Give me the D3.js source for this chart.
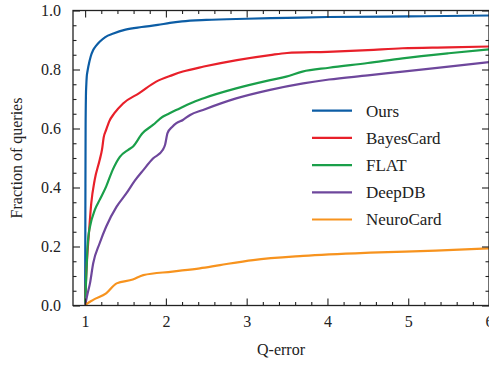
<!DOCTYPE html>
<html>
<head>
<meta charset="utf-8">
<title></title>
<script src="https://cdn.jsdelivr.net/npm/d3@7/dist/d3.min.js"></script>
<style>
  body { margin: 0; background: #fff; }
  text { font-family: "Liberation Serif", serif; fill: #222; }
</style>
</head>
<body>
<script>
const width = 489
const height = 365
const margin = { top: 10.5, bottom: 59.5, left: 73, right: 0 }

// data: Q-error (x) vs fraction of queries (y)
const seriesNames = ["Ours", "BayesCard", "FLAT", "DeepDB", "NeuroCard"]
const seriesColors = ["#0c5da5", "#e8202a", "#1a9f4a", "#6e479c", "#f7931e"]

const oursX = [1.0, 1.003, 1.006, 1.01, 1.015, 1.02, 1.03, 1.04, 1.07, 1.1, 1.14, 1.18, 1.25, 1.35, 1.5, 1.7, 1.9, 2.05, 2.2, 2.5, 3.0, 3.5, 4.0, 5.0, 6.0]
const oursY = [0.0, 0.3, 0.6, 0.71, 0.75, 0.775, 0.795, 0.81, 0.845, 0.866, 0.882, 0.894, 0.91, 0.922, 0.935, 0.944, 0.951, 0.958, 0.963, 0.968, 0.972, 0.975, 0.978, 0.98, 0.983]

const bayesX = [1.0, 1.01, 1.025, 1.04, 1.05, 1.076, 1.118, 1.18, 1.21, 1.23, 1.26, 1.3, 1.36, 1.47, 1.67, 1.88, 2.08, 2.21, 2.47, 2.88, 3.29, 3.5, 4.0, 4.5, 4.93, 5.5, 6.0]
const bayesY = [0.0, 0.08, 0.16, 0.22, 0.256, 0.346, 0.425, 0.493, 0.53, 0.57, 0.595, 0.625, 0.651, 0.685, 0.72, 0.759, 0.781, 0.793, 0.81, 0.832, 0.849, 0.856, 0.86, 0.866, 0.872, 0.875, 0.878]

const flatX = [1.0, 1.01, 1.02, 1.03, 1.04, 1.06, 1.12, 1.18, 1.26, 1.34, 1.43, 1.53, 1.59, 1.71, 1.84, 1.96, 2.04, 2.17, 2.3, 2.46, 2.87, 3.29, 3.49, 3.69, 4.02, 4.5, 4.93, 5.5, 6.0]
const flatY = [0.0, 0.07, 0.14, 0.2, 0.233, 0.267, 0.324, 0.358, 0.403, 0.459, 0.504, 0.527, 0.538, 0.584, 0.612, 0.64, 0.651, 0.668, 0.685, 0.702, 0.736, 0.764, 0.776, 0.793, 0.806, 0.822, 0.838, 0.855, 0.868]

const deepX = [1.0, 1.03, 1.06, 1.1, 1.18, 1.26, 1.39, 1.51, 1.62, 1.72, 1.84, 1.96, 1.99, 2.02, 2.08, 2.13, 2.21, 2.3, 2.46, 2.87, 3.29, 3.7, 4.02, 4.5, 4.93, 5.5, 6.0]
const deepY = [0.0, 0.04, 0.075, 0.143, 0.211, 0.267, 0.335, 0.38, 0.425, 0.459, 0.498, 0.527, 0.545, 0.584, 0.606, 0.618, 0.629, 0.646, 0.663, 0.702, 0.731, 0.753, 0.766, 0.78, 0.793, 0.81, 0.825]

const neuroX = [1.0, 1.02, 1.1, 1.26, 1.39, 1.59, 1.72, 2.08, 2.42, 2.67, 3.08, 3.7, 4.53, 5.34, 6.0]
const neuroY = [0.0, 0.005, 0.019, 0.041, 0.075, 0.088, 0.103, 0.115, 0.126, 0.137, 0.154, 0.168, 0.179, 0.186, 0.194]

const xTicks = [1, 2, 3, 4, 5, 6]
const yTicks = [0, 0.2, 0.4, 0.6, 0.8, 1.0]

const seriesData = [
  [oursX, oursY], [bayesX, bayesY], [flatX, flatY], [deepX, deepY], [neuroX, neuroY]
]

const svg = d3.select('body').append('svg')
  .attr('width', width)
  .attr('height', height)

const x = d3.scaleLinear().domain([0.85, 6]).range([margin.left, width - margin.right])
const y = d3.scaleLinear().domain([0, 1]).range([height - margin.bottom, margin.top])

const xMinor = d3.range(1, 6.01, 0.2).filter(v => xTicks.every(t => Math.abs(t - v) > 1e-6))
const yMinor = d3.range(0, 1.001, 0.05).filter(v => yTicks.every(t => Math.abs(t - v) > 1e-6))

svg.append('clipPath').attr('id', 'plot')
  .append('rect')
  .attr('x', margin.left).attr('y', margin.top)
  .attr('width', width - margin.right - margin.left)
  .attr('height', height - margin.bottom - margin.top)

// lines
const line = d3.line().x(d => x(d[0])).y(d => y(d[1])).curve(d3.curveMonotoneX)
const plot = svg.append('g').attr('clip-path', 'url(#plot)')
seriesData.forEach((s, i) => {
  const pts = s[0].map((v, j) => [v, s[1][j]])
  plot.append('path')
    .datum(pts)
    .attr('fill', 'none')
    .attr('stroke', seriesColors[i])
    .attr('stroke-width', 2.2)
    .attr('stroke-linejoin', 'round')
    .attr('d', line)
})

// axes, ticks pointing inward
function styleAxis(g) {
  g.selectAll('.tick line').attr('stroke', '#222').attr('stroke-width', 1.1)
  g.selectAll('.domain').remove()
  g.selectAll('text').style('font-size', '16px').attr('fill', '#222')
}

const bottomY = height - margin.bottom
const rightX = width - margin.right

svg.append('g').attr('transform', `translate(0,${bottomY})`)
  .call(d3.axisBottom(x).tickValues(xTicks).tickFormat(d3.format('d')).tickSize(-7).tickPadding(10))
  .call(styleAxis)
svg.append('g').attr('transform', `translate(0,${bottomY})`)
  .call(d3.axisBottom(x).tickValues(xMinor).tickFormat('').tickSize(-3.5))
  .call(styleAxis)
svg.append('g').attr('transform', `translate(0,${margin.top})`)
  .call(d3.axisTop(x).tickValues(xTicks).tickFormat('').tickSize(-7))
  .call(styleAxis)
svg.append('g').attr('transform', `translate(0,${margin.top})`)
  .call(d3.axisTop(x).tickValues(xMinor).tickFormat('').tickSize(-3.5))
  .call(styleAxis)

svg.append('g').attr('transform', `translate(${margin.left},0)`)
  .call(d3.axisLeft(y).tickValues(yTicks).tickFormat(d3.format('.1f')).tickSize(-7).tickPadding(12))
  .call(styleAxis)
svg.append('g').attr('transform', `translate(${margin.left},0)`)
  .call(d3.axisLeft(y).tickValues(yMinor).tickFormat('').tickSize(-3.5))
  .call(styleAxis)
svg.append('g').attr('transform', `translate(${rightX},0)`)
  .call(d3.axisRight(y).tickValues(yTicks).tickFormat('').tickSize(-7))
  .call(styleAxis)
svg.append('g').attr('transform', `translate(${rightX},0)`)
  .call(d3.axisRight(y).tickValues(yMinor).tickFormat('').tickSize(-3.5))
  .call(styleAxis)

// frame
svg.append('rect')
  .attr('x', margin.left).attr('y', margin.top)
  .attr('width', rightX - margin.left)
  .attr('height', bottomY - margin.top)
  .attr('fill', 'none')
  .attr('stroke', '#222')
  .attr('stroke-width', 1.3)

// axis labels
svg.append('text')
  .attr('x', 281).attr('y', 355)
  .attr('text-anchor', 'middle')
  .style('font-size', '16px')
  .text('Q-error')
svg.append('text')
  .attr('transform', `translate(22,${(margin.top + bottomY) / 2}) rotate(-90)`)
  .attr('text-anchor', 'middle')
  .style('font-size', '16px')
  .text('Fraction of queries')

// legend
const legend = svg.append('g')
seriesNames.forEach((name, i) => {
  const ly = 110.7 + i * 27.2
  legend.append('line')
    .attr('x1', 312).attr('x2', 352)
    .attr('y1', ly).attr('y2', ly)
    .attr('stroke', seriesColors[i])
    .attr('stroke-width', 2.2)
  legend.append('text')
    .attr('x', 366).attr('y', ly)
    .attr('dy', '0.35em')
    .style('font-size', '17px')
    .text(name)
})
</script>
</body>
</html>
